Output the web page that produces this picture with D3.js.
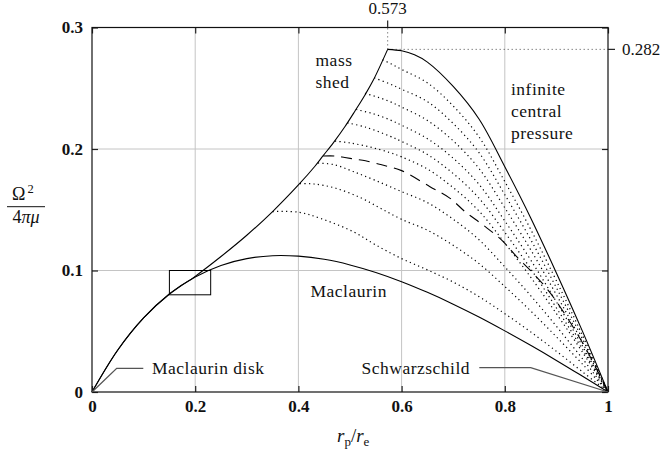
<!DOCTYPE html>
<html><head><meta charset="utf-8">
<script src="https://cdn.jsdelivr.net/npm/d3@7"></script>
<style>body{margin:0;background:#fff} svg{display:block} text{font-family:"Liberation Serif","DejaVu Serif",serif;fill:#111}</style>
</head><body><svg id="c" width="665" height="453"></svg>
<script>
// ---- data ----
const xTickValues = [0, 0.2, 0.4, 0.6, 0.8, 1];
const xTickLabels = ["0", "0.2", "0.4", "0.6", "0.8", "1"];
const yTickValues = [0, 0.1, 0.2, 0.3];
const yTickLabels = ["0", "0.1", "0.2", "0.3"];
const peak = [0.573, 0.282];
const boxX = [0.15, 0.23];
const boxY = [0.08, 0.1];

const maclaurinX = [0,0.05,0.1,0.15,0.2,0.25,0.3,0.35,0.4,0.45,0.5,0.55,0.6,0.65,0.7,0.75,0.8,0.85,0.9,0.95,1];
const maclaurinY = [0,0.0346,0.061,0.0807,0.0947,0.1042,0.1098,0.1122,0.1118,0.1092,0.1046,0.0984,0.0908,0.082,0.0723,0.0617,0.0503,0.0384,0.026,0.0131,0];

const massShedX = [0,0.05,0.1,0.15,0.2,0.25,0.3,0.35,0.4,0.432,0.448,0.468,0.49,0.51,0.529,0.545,0.573];
const massShedY = [0,0.0346,0.061,0.0807,0.0952,0.1115,0.129,0.1485,0.1704,0.1858,0.1945,0.2053,0.2183,0.2315,0.2445,0.2565,0.282];

const centralX = [0.573,0.6,0.625,0.65,0.7,0.75,0.8,0.85,0.9,0.95,1];
const centralY = [0.282,0.2808,0.2775,0.2715,0.2515,0.2247,0.1854,0.1435,0.098,0.0505,0];

const dashedCurve = [[0.448,0.1942],[0.471,0.1942],[0.49,0.193],[0.51,0.1916],[0.53,0.1903],[0.555,0.1877],[0.575,0.1855],[0.6,0.1822],[0.655,0.169],[0.694,0.1594],[0.723,0.1484],[0.758,0.1374],[0.794,0.125],[0.823,0.1114],[0.852,0.099],[0.881,0.0853],[0.907,0.0702],[0.955,0.0373],[1,0]];

const dotted1 = [[0.563,0.2735],[0.58,0.27],[0.6,0.2655],[0.65,0.2544],[0.7,0.2354],[0.75,0.21],[0.8,0.1732],[0.85,0.134],[0.9,0.0915],[0.95,0.0471],[1,0]];
const dotted2 = [[0.547,0.2585],[0.5775,0.2535],[0.6,0.2492],[0.65,0.239],[0.7,0.221],[0.75,0.197],[0.8,0.1624],[0.85,0.1256],[0.9,0.0858],[0.95,0.0441],[1,0]];
const dotted3 = [[0.529,0.2458],[0.555,0.2425],[0.5775,0.239],[0.6,0.2345],[0.65,0.2235],[0.7,0.2067],[0.75,0.184],[0.8,0.1516],[0.85,0.1172],[0.9,0.08],[0.95,0.0412],[1,0]];
const dotted4 = [[0.512,0.2325],[0.545,0.229],[0.5775,0.224],[0.6,0.2195],[0.65,0.2085],[0.7,0.1924],[0.75,0.1709],[0.8,0.1408],[0.85,0.1088],[0.9,0.0742],[0.95,0.0382],[1,0]];
const dotted5 = [[0.495,0.2215],[0.53,0.218],[0.5775,0.2105],[0.6,0.2062],[0.65,0.1955],[0.7,0.1798],[0.75,0.1595],[0.8,0.1314],[0.85,0.1015],[0.9,0.0692],[0.95,0.0355],[1,0]];
const dotted6 = [[0.471,0.2065],[0.5,0.205],[0.54,0.2015],[0.5775,0.197],[0.6,0.1935],[0.65,0.1835],[0.7,0.1682],[0.75,0.1489],[0.8,0.1226],[0.85,0.0946],[0.9,0.0645],[0.95,0.0331],[1,0]];
const dotted7 = [[0.438,0.1885],[0.47,0.187],[0.506,0.1815],[0.55,0.174],[0.6,0.1649],[0.65,0.1559],[0.7,0.1422],[0.75,0.1253],[0.8,0.103],[0.85,0.0794],[0.9,0.0541],[0.95,0.0277],[1,0]];
const dotted8 = [[0.403,0.1715],[0.43,0.1712],[0.47,0.168],[0.52,0.16],[0.56,0.151],[0.6,0.1421],[0.65,0.1332],[0.7,0.1207],[0.75,0.1057],[0.8,0.0868],[0.85,0.0668],[0.9,0.0454],[0.95,0.0232],[1,0]];
const dotted9 = [[0.35,0.1485],[0.4,0.148],[0.442,0.143],[0.506,0.132],[0.55,0.121],[0.6,0.1098],[0.65,0.1005],[0.7,0.0905],[0.75,0.0785],[0.8,0.0645],[0.85,0.0495],[0.9,0.0335],[0.95,0.0168],[1,0]];
const dottedCurves = [dotted1, dotted2, dotted3, dotted4, dotted5, dotted6, dotted7, dotted8, dotted9];

// ---- drawing ----
const svg = d3.select("#c");
svg.append("rect").attr("width",665).attr("height",453).attr("fill","#fff");
const x = d3.scaleLinear().domain([0,1]).range([92,608]);
const y = d3.scaleLinear().domain([0,0.3]).range([392,27.5]);

// grid
const grid = svg.append("g").attr("stroke","#c4c4c4").attr("stroke-width",1);
xTickValues.filter(v=>v>0&&v<1).forEach(v=>grid.append("line").attr("x1",x(v)).attr("x2",x(v)).attr("y1",y(0)).attr("y2",y(0.3)));
yTickValues.filter(v=>v>0&&v<0.3).forEach(v=>grid.append("line").attr("x1",x(0)).attr("x2",x(1)).attr("y1",y(v)).attr("y2",y(v)));

// reference dotted lines to peak
const ref = svg.append("g").attr("stroke","#333").attr("stroke-width",0.9).attr("stroke-dasharray","1 3").attr("fill","none");
ref.append("line").attr("x1",x(peak[0])).attr("x2",x(peak[0])).attr("y1",y(peak[1])).attr("y2",y(0.3));
ref.append("line").attr("x1",x(peak[0])).attr("x2",x(1)).attr("y1",y(peak[1])).attr("y2",y(peak[1]));

// curves
const smooth = d3.curveCatmullRom.alpha(0.5);
const lineXY = d3.line().x(d=>x(d[0])).y(d=>y(d[1])).curve(smooth);
const zip = (a,b)=>a.map((v,i)=>[v,b[i]]);
svg.append("path").datum(zip(maclaurinX,maclaurinY)).attr("d",lineXY).attr("fill","none").attr("stroke","#000").attr("stroke-width",1.1);
svg.append("path").datum(zip(massShedX,massShedY)).attr("d",lineXY).attr("fill","none").attr("stroke","#000").attr("stroke-width",1.1);
svg.append("path").datum(zip(centralX,centralY)).attr("d",lineXY).attr("fill","none").attr("stroke","#000").attr("stroke-width",1.1);
svg.append("g").selectAll("path").data(dottedCurves).join("path")
  .attr("d",lineXY).attr("fill","none").attr("stroke","#000")
  .attr("stroke-width",1.2).attr("stroke-dasharray","1.2 3.3");
svg.append("path").datum(dashedCurve).attr("d",lineXY).attr("fill","none").attr("stroke","#000").attr("stroke-width",1.1).attr("stroke-dasharray","11 7");

// box
svg.append("rect").attr("x",x(boxX[0])).attr("y",y(boxY[1])).attr("width",x(boxX[1])-x(boxX[0])).attr("height",y(boxY[0])-y(boxY[1]))
  .attr("fill","none").attr("stroke","#000").attr("stroke-width",1);

// axes
const fs = 17;
const axB = svg.append("g").attr("transform",`translate(0,${y(0)})`)
  .call(d3.axisBottom(x).tickValues(xTickValues).tickSize(-6).tickSizeOuter(0).tickPadding(8).tickFormat((d,i)=>xTickLabels[i]));
const axL = svg.append("g").attr("transform",`translate(${x(0)},0)`)
  .call(d3.axisLeft(y).tickValues(yTickValues).tickSize(-6).tickSizeOuter(0).tickPadding(9).tickFormat((d,i)=>yTickLabels[i]));
const axT = svg.append("g").attr("transform",`translate(0,${y(0.3)})`)
  .call(d3.axisTop(x).tickValues(xTickValues).tickSize(-6).tickSizeOuter(0).tickFormat(""));
const axR = svg.append("g").attr("transform",`translate(${x(1)},0)`)
  .call(d3.axisRight(y).tickValues(yTickValues).tickSize(-6).tickSizeOuter(0).tickFormat(""));
[axB,axL,axT,axR].forEach(a=>{
  a.select(".domain").remove();
  a.selectAll("line").attr("stroke","#222").attr("stroke-width",1.2);
  a.selectAll("text").attr("font-family","Liberation Serif, DejaVu Serif, serif").attr("font-size",fs).attr("font-weight","bold").attr("fill","#111");
});
// frame
svg.append("rect").attr("x",x(0)).attr("y",y(0.3)).attr("width",x(1)-x(0)).attr("height",y(0)-y(0.3))
  .attr("fill","none").attr("stroke","#111").attr("stroke-width",1.2);

// peak marks
svg.append("line").attr("x1",x(peak[0])).attr("x2",x(peak[0])).attr("y1",y(0.3)).attr("y2",y(0.3)-7).attr("stroke","#222").attr("stroke-width",1.2);
svg.append("line").attr("x1",x(1)).attr("x2",x(1)+7).attr("y1",y(peak[1])).attr("y2",y(peak[1])).attr("stroke","#222").attr("stroke-width",1.2);
svg.append("text").attr("x",x(peak[0])).attr("y",13.5).attr("text-anchor","middle").attr("font-size",fs).text(String(peak[0]));
svg.append("text").attr("x",x(1)+14).attr("y",y(peak[1])+5.5).attr("font-size",fs).text(String(peak[1]));

// labels
const lab = (t,px,py)=>svg.append("text").attr("x",px).attr("y",py).attr("font-size",17.5).attr("letter-spacing","0.5px").text(t);
lab("mass",315.5,65.5); lab("shed",315.5,87.5);
lab("infinite",511,95); lab("central",511,117); lab("pressure",511,139);
lab("Maclaurin",310.5,297);
lab("Maclaurin disk",152,373.5);
lab("Schwarzschild",361.5,373.5);

// leaders
const leader = svg.append("g").attr("stroke","#555").attr("stroke-width",1.3).attr("fill","none");
leader.append("path").attr("d",`M${x(0)},${y(0)}L${x(0)+24.7},${y(0)-23.7}L${x(0)+51.3},${y(0)-23.7}`);
leader.append("path").attr("d",`M${x(1)-128.7},${y(0)-24.3}L${x(1)-77.3},${y(0)-24.3}L${x(1)},${y(0)}`);

// axis titles
const xl = svg.append("text").attr("x",337).attr("y",441.5).attr("font-size",19);
xl.append("tspan").attr("font-style","italic").text("r");
xl.append("tspan").attr("font-size",13).attr("dy",4).text("p");
xl.append("tspan").attr("dy",-4).text("/");
xl.append("tspan").attr("font-style","italic").text("r");
xl.append("tspan").attr("font-size",13).attr("dy",4).text("e");

const yl = svg.append("g");
yl.append("text").attr("x",12).attr("y",200).attr("font-size",18).text("Ω");
yl.append("text").attr("x",27.5).attr("y",193).attr("font-size",12.5).text("2");
yl.append("line").attr("x1",7).attr("x2",45).attr("y1",206.7).attr("y2",206.7).attr("stroke","#111").attr("stroke-width",1);
const yd = yl.append("text").attr("x",26).attr("y",223).attr("font-size",18).attr("text-anchor","middle");
yd.append("tspan").text("4");
yd.append("tspan").attr("font-style","italic").text("π");
yd.append("tspan").attr("font-style","italic").text("μ");
</script></body></html>
